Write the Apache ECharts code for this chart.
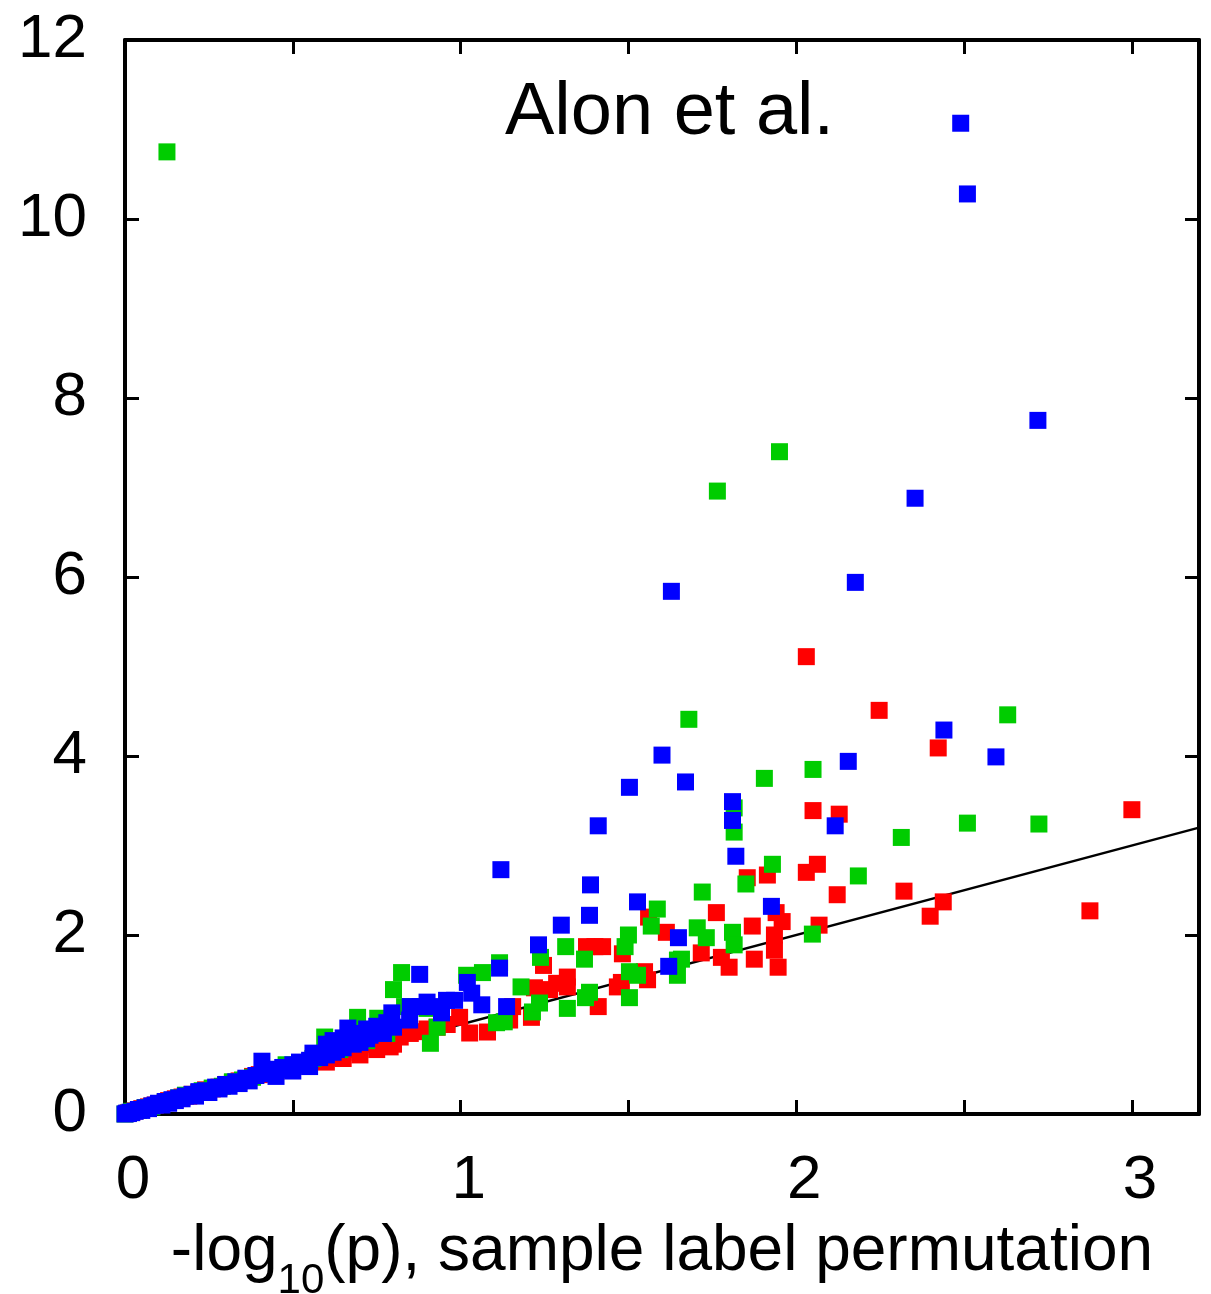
<!DOCTYPE html>
<html>
<head>
<meta charset="utf-8">
<script src="https://cdn.jsdelivr.net/npm/echarts@6/dist/echarts.min.js"></script>
<style>html,body{margin:0;padding:0;background:#fff}#c{width:1211px;height:1294px}</style>
</head>
<body>
<div id="c"></div>
<script>
// ---- data ----
const xTicks = [0, 1, 2, 3];
const yTicks = [0, 2, 4, 6, 8, 10, 12];
const diagonal = [[0, 0], [3.2, 3.2]];

const redPoints = [
  [0.005,0.005],[0.01,0.012],[0.02,0.02],[0.03,0.035],[0.04,0.045],[0.05,0.06],[0.06,0.065],[0.07,0.08],
  [0.08,0.09],[0.09,0.1],[0.1,0.11],[0.12,0.13],[0.13,0.15],[0.15,0.17],[0.17,0.19],[0.19,0.2],[0.2,0.22],
  [0.22,0.24],[0.24,0.27],[0.26,0.28],[0.28,0.3],[0.3,0.33],[0.32,0.35],[0.34,0.37],[0.36,0.38],[0.38,0.42],
  [0.4,0.44],[0.42,0.45],[0.45,0.48],[0.48,0.51],[0.5,0.53],[0.53,0.55],[0.55,0.58],[0.58,0.62],[0.6,0.63],
  [0.6,0.58],[0.65,0.62],[0.7,0.66],[0.75,0.72],[0.8,0.78],
  [0.63,0.66],[0.65,0.69],[0.68,0.72],[0.7,0.75],[0.73,0.78],[0.76,0.8],[0.79,0.75],[0.82,0.86],[0.85,0.9],
  [0.88,0.92],[0.9,0.95],[0.93,0.97],[0.96,1.0],[0.997,1.08],[1.027,0.905],[1.08,0.916],[1.146,1.05],
  [1.155,1.2],[1.211,1.08],[1.22,1.41],[1.265,1.39],[1.286,1.46],[1.247,1.66],[1.318,1.53],[1.318,1.42],
  [1.375,1.87],[1.4,1.87],[1.423,1.87],[1.41,1.2],[1.467,1.42],[1.479,1.47],[1.482,1.79],[1.548,1.59],
  [1.557,1.5],[1.56,2.2],[1.613,2.03],[1.717,1.8],[1.762,2.25],[1.777,1.75],[1.8,1.64],[1.854,2.64],
  [1.869,2.1],[1.875,1.73],[1.914,2.67],[1.94,2.25],[1.958,2.15],[1.935,2.0],[1.935,1.83],[1.946,1.64],
  [2.03,2.7],[2.063,2.79],[2.03,5.11],[2.05,3.39],[2.068,2.11],[2.122,2.45],[2.128,3.35],[2.247,4.51],
  [2.321,2.49],[2.399,2.21],[2.423,4.09],[2.438,2.37],[2.875,2.27],[3.0,3.4]
];

const greenPoints = [
  [0.0,0.0],[0.01,0.01],[0.02,0.03],[0.04,0.04],[0.06,0.07],[0.08,0.08],[0.1,0.11],[0.12,0.14],[0.14,0.15],
  [0.16,0.18],[0.18,0.21],[0.2,0.21],[0.23,0.26],[0.26,0.29],[0.29,0.31],[0.32,0.36],[0.35,0.38],[0.38,0.41],
  [0.42,0.47],[0.45,0.49],[0.48,0.55],[0.52,0.57],[0.56,0.62],[0.595,0.86],[0.6,0.7],[0.64,0.72],[0.68,0.8],
  [0.693,1.08],[0.72,0.82],[0.753,1.07],[0.78,0.9],[0.8,1.39],[0.824,1.58],[0.833,1.2],[0.9,1.18],[0.93,0.97],
  [0.91,0.79],[0.125,10.75],[1.018,1.55],[1.065,1.58],[1.116,1.69],[1.107,1.02],[1.13,1.03],[1.18,1.42],
  [1.214,1.14],[1.235,1.24],[1.238,1.75],[1.313,1.87],[1.318,1.18],[1.369,1.73],[1.372,1.3],[1.384,1.36],
  [1.49,1.87],[1.5,2.0],[1.503,1.59],[1.527,1.55],[1.503,1.3],[1.568,2.1],[1.586,2.29],[1.646,1.72],
  [1.646,1.55],[1.658,1.73],[1.68,4.41],[1.705,2.08],[1.732,1.97],[1.72,2.48],[1.765,6.96],[1.81,2.03],
  [1.815,1.89],[1.815,3.42],[1.815,3.15],[1.85,2.57],[1.905,3.75],[1.929,2.79],[1.95,7.4],[2.048,2.01],
  [2.05,3.85],[2.185,2.66],[2.313,3.09],[2.51,3.25],[2.63,4.46],[2.723,3.24]
];

const bluePoints = [
  [0,0],[0.005,0.01],[0.01,0.005],[0.015,0.02],[0.02,0.015],[0.03,0.03],[0.04,0.05],[0.05,0.04],[0.06,0.07],
  [0.07,0.06],[0.08,0.09],[0.09,0.1],[0.1,0.12],[0.11,0.1],[0.12,0.14],[0.13,0.12],[0.14,0.16],[0.15,0.15],
  [0.16,0.18],[0.17,0.17],[0.18,0.2],[0.2,0.22],[0.21,0.2],[0.22,0.25],[0.24,0.26],[0.25,0.24],[0.27,0.3],
  [0.28,0.28],[0.3,0.33],[0.31,0.31],[0.33,0.36],[0.34,0.34],[0.36,0.4],[0.37,0.37],[0.39,0.43],[0.408,0.59],
  [0.42,0.45],[0.44,0.47],[0.45,0.5],[0.47,0.52],[0.48,0.5],[0.5,0.55],[0.52,0.58],[0.53,0.55],[0.55,0.6],
  [0.45,0.42],[0.5,0.48],[0.55,0.53],[0.6,0.78],[0.62,0.82],[0.65,0.85],[0.7,0.9],[0.72,0.95],[0.75,0.98],
  [0.78,1.02],[0.8,0.97],[0.85,1.2],[0.88,1.2],[0.9,1.25],
  [0.56,0.68],[0.58,0.63],[0.6,0.66],[0.62,0.69],[0.63,0.72],[0.65,0.74],[0.664,0.96],[0.68,0.78],[0.7,0.8],
  [0.72,0.84],[0.73,0.88],[0.753,0.94],[0.77,0.9],[0.795,1.13],[0.848,1.05],[0.878,1.56],[0.917,1.2],
  [0.943,1.13],[0.958,1.27],[0.982,1.27],[1.02,1.47],[1.033,1.35],[1.063,1.22],[1.116,1.63],[1.137,1.2],
  [1.12,2.73],[1.232,1.89],[1.3,2.11],[1.384,2.22],[1.387,2.56],[1.41,3.22],[1.503,3.65],[1.527,2.37],
  [1.6,4.01],[1.62,1.65],[1.628,5.84],[1.649,1.97],[1.67,3.71],[1.81,3.49],[1.81,3.28],[1.82,2.88],
  [1.926,2.32],[2.116,3.22],[2.155,3.94],[2.176,5.94],[2.354,6.88],[2.44,4.29],[2.49,11.07],[2.51,10.28],
  [2.595,3.99],[2.72,7.75]
];

// ---- chart ----
const FONT = 'Liberation Sans, Helvetica, Arial, sans-serif';
const chart = echarts.init(document.getElementById('c'), null, {renderer: 'canvas'});

const lineW = 4;
const tickStyle = {inside: true, length: 14, lineStyle: {color: '#000', width: 3}};
const axisLineStyle = {show: true, onZero: false, lineStyle: {color: '#000', width: lineW}};

chart.setOption({
  backgroundColor: '#fff',
  animation: false,
  grid: {left: 125, right: 12, top: 40, bottom: 180, containLabel: false, outerBoundsMode: 'none'},
  xAxis: [
    {
      type: 'value', min: 0, max: 3.2, interval: 0.5, position: 'bottom',
      axisLine: axisLineStyle, axisTick: tickStyle, splitLine: {show: false},
      axisLabel: {
        color: '#000', fontFamily: FONT, fontSize: 62, margin: 36, padding: [0, 0, 0, 16],
        formatter: v => (xTicks.indexOf(v) >= 0 ? String(v) : '')
      },
      name: '{a|-log}{s|10}{a|(p), sample label permutation}',
      nameLocation: 'middle', nameGap: 100,
      nameTextStyle: {
        color: '#000', fontFamily: FONT,
        rich: {
          a: {fontFamily: FONT, fontSize: 64, color: '#000', lineHeight: 70, verticalAlign: 'bottom'},
          s: {fontFamily: FONT, fontSize: 42, color: '#000', lineHeight: 70, verticalAlign: 'bottom', padding: [0, 0, -18, 0]}
        }
      }
    },
    {
      type: 'value', min: 0, max: 3.2, interval: 0.5, position: 'top',
      axisLine: axisLineStyle, axisTick: tickStyle, splitLine: {show: false},
      axisLabel: {show: false}
    }
  ],
  yAxis: [
    {
      type: 'value', min: 0, max: 12, interval: 2, position: 'left',
      axisLine: axisLineStyle, axisTick: tickStyle, splitLine: {show: false},
      axisLabel: {
        color: '#000', fontFamily: FONT, fontSize: 62, margin: 38,
        formatter: v => (yTicks.indexOf(v) >= 0 ? String(v) : '')
      }
    },
    {
      type: 'value', min: 0, max: 12, interval: 2, position: 'right',
      axisLine: axisLineStyle, axisTick: tickStyle, splitLine: {show: false},
      axisLabel: {show: false}
    }
  ],
  graphic: [
    {
      type: 'text', left: 505, top: 77, z: 10,
      style: {text: 'Alon et al.', fontFamily: FONT, fontSize: 74, fill: '#000'}
    }
  ],
  series: [
    {
      type: 'line', data: diagonal, showSymbol: false, silent: true, z: 1,
      lineStyle: {color: '#000', width: 2.5}
    },
    {
      type: 'scatter', data: redPoints, symbol: 'rect', symbolSize: 17, z: 2,
      itemStyle: {color: '#ff0000', opacity: 1}
    },
    {
      type: 'scatter', data: greenPoints, symbol: 'rect', symbolSize: 17, z: 3,
      itemStyle: {color: '#00cc00', opacity: 1}
    },
    {
      type: 'scatter', data: bluePoints, symbol: 'rect', symbolSize: 17, z: 4,
      itemStyle: {color: '#0000ff', opacity: 1}
    }
  ]
});
</script>
</body>
</html>
